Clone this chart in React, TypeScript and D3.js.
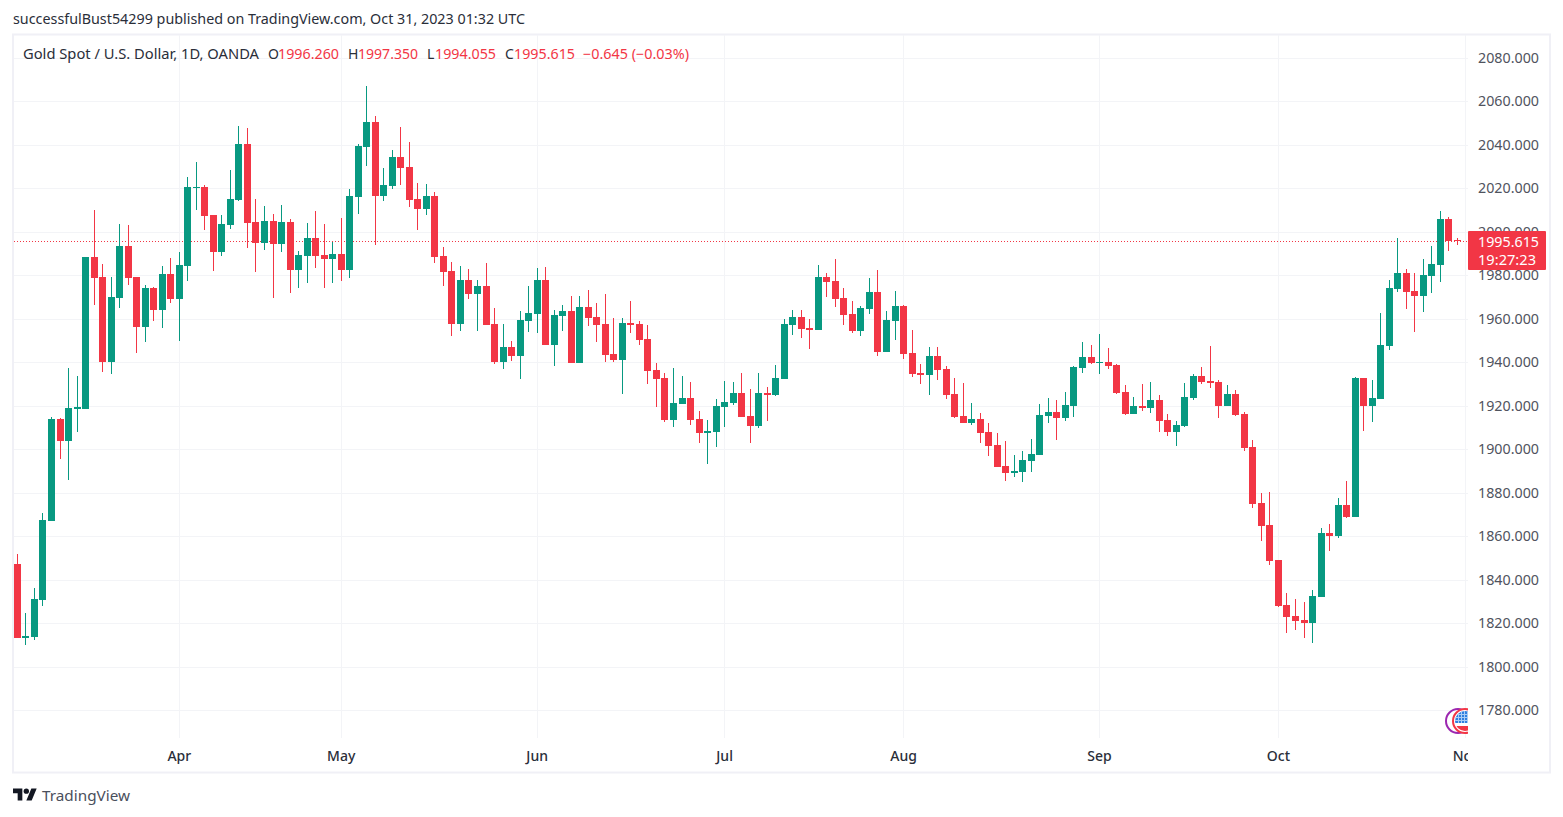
import React from "react";
import * as d3 from "d3";

const opens = [1847.3,1813.4,1813.8,1830.8,1867,1914,1904,1918.7,1918.7,1988.4,1979.2,1940.2,1969.5,1993.4,1979.2,1956.3,1974.1,1964.1,1980.6,1969.2,
1984.4,2020.1,2020.6,2007.7,1990.8,2003.2,2014.7,2040.4,2004.5,1995,2005,1994.5,2004.5,1982.5,1989,1997.1,1989.3,1987.5,1989.8,1982.5,
2016.1,2039.1,2050.5,2016.6,2021.2,2034.4,2029.8,2015.1,2010.6,2016.4,1988.8,1981.9,1957.7,1977.8,1971.5,1975,1957.6,1940.2,1947,1942.8,
1958.9,1962.2,1977.8,1947.9,1961.2,1963.5,1939.6,1965.4,1960.8,1957.6,1943.8,1941,1958,1957.6,1950.7,1936.4,1932.7,1913.5,1920.9,1923.5,
1913.9,1907.5,1908,1919.5,1921.3,1925.8,1915.3,1910.7,1925.8,1924.9,1932.3,1957.1,1960.8,1955.7,1954.8,1979.2,1977.3,1969.5,1962.2,1954.3,
1964.5,1972.3,1944.7,1958.9,1965.8,1944.2,1935,1934.1,1942.8,1936.9,1925.4,1915.3,1912.1,1914,1908,1902,1892.3,1889.1,1889.6,1894.6,
1897.4,1915.3,1917.2,1914.4,1920,1937.3,1942.4,1939.6,1940.1,1938.7,1926.3,1916.2,1920,1919,1922.7,1913.5,1908,1910.7,1923.5,1933.6,
1931.3,1930.9,1920,1925.4,1916.2,1901.1,1875.3,1865.2,1849.1,1828.4,1823.3,1821.5,1820.1,1832,1861.5,1860.1,1874.4,1868.9,1932.7,1920,
1923.1,1947.4,1973.7,1981,1972.7,1970.4,1979.6,1984.7,2005.9,1996.26];
const highs = [1851.9,1824.7,1836.2,1870.7,1914.9,1914.4,1937.3,1933.6,1988.4,2010,1985.2,1979.2,2003.6,2003.1,1979.2,1975.5,1974.6,1984.2,1987.9,1990.7,
2025.2,2032.1,2021.5,2007.7,2007.7,2028.4,2048.6,2047.7,2015.1,2011.8,2008.2,2012.3,2005.9,1991.1,2004,2009.5,2003.6,1995.3,2006.3,2019.7,
2040.4,2067,2053.2,2029.3,2037.6,2048.2,2041.3,2022.4,2022,2018.3,1993,1986.1,1984.2,1982.9,1977.8,1985.6,1964.9,1957.6,1949.7,1963.5,
1975,1983.3,1983.8,1964,1966.3,1970.4,1970.4,1973.2,1967.2,1971.4,1960.3,1960.3,1968.1,1959,1957.1,1939.6,1935,1937.3,1933.6,1930.9,
1917.6,1913.5,1923.1,1931.3,1930.9,1935,1927.7,1935,1928.6,1938.7,1959.9,1964,1964,1959.9,1984.7,1981,1987.5,1974.1,1968.1,1965.8,
1978.7,1982.4,1963.5,1972.7,1966.3,1954.8,1939.2,1947,1947,1938.2,1932.7,1930.4,1921.3,1916.7,1912.1,1907.5,1903.8,1897.4,1899.2,1904.8,
1920.9,1923.6,1922.7,1926.4,1938.2,1949.3,1947.9,1953,1946.5,1939.2,1929.5,1924.1,1930,1930.9,1924.9,1916.2,1913,1930.4,1934.6,1937.8,
1947.4,1931.8,1929.5,1927.2,1917.2,1904.3,1879.9,1880.4,1849.1,1833.9,1831.2,1829.8,1835.3,1863.8,1865.7,1877.6,1885.4,1933.2,1932.7,1931.8,
1962.6,1977.8,1997.1,1982.9,1981,1987.5,1993.4,2009.5,2006.8,1997.35];
const lows = [1813.2,1810.1,1812.4,1828.1,1867,1895.7,1886,1908.1,1918.6,1966.3,1935.6,1934.7,1965.1,1975.6,1944.4,1949.4,1959.1,1955.9,1967.4,1949.9,
1977.5,2010.1,2000.9,1982.1,1989,2001.4,2014.3,1992.7,1981.6,1991.7,1969.7,1990.8,1972,1974.3,1976.6,1983.5,1974.3,1976.6,1977.5,1978.9,
2008.3,2030.4,1994,2014.3,2019.8,2021.6,2011.5,2000.9,2007.8,1985.8,1975.2,1952.2,1954.5,1969.2,1954.5,1957.2,1939.3,1936.9,1940.5,1932.3,
1953.9,1953.4,1947.9,1938.2,1954.3,1939.6,1939.6,1956.6,1949.3,1940.1,1940.1,1925.4,1953.4,1947.9,1930,1919.5,1912.6,1910.3,1920.9,1911.2,
1902.9,1893.3,1901.1,1910.3,1920.4,1914.9,1902.9,1909.8,1913,1924.5,1932.3,1952.5,1951.1,1946,1954.8,1970,1965.4,1957.1,1953.4,1952,
1962.2,1942.8,1944.7,1950.2,1941.5,1933.2,1930,1924.9,1931.8,1923.1,1914.4,1912.1,1911.2,1902.9,1896.9,1891.9,1885.4,1887.3,1884.9,1889.6,
1897.4,1912.1,1904.3,1913,1914.9,1935,1939.2,1934.6,1936.9,1925.4,1915.8,1916.2,1917.6,1916.7,1908,1906.1,1901.5,1910.3,1922.6,1930,
1928.1,1914.4,1920,1915.3,1899.2,1873,1857.8,1846.8,1827.5,1815.5,1816.9,1813.2,1810.9,1832,1853.2,1859.2,1868.4,1868.9,1908.4,1912.6,
1923.1,1945.6,1972.3,1964.5,1953.9,1963.1,1971.8,1976.9,1991.1,1994.055];
const closes = [1813.4,1814.1,1831.2,1867.5,1914,1904,1919,1919.5,1988.4,1978.9,1940.2,1970,1993.4,1978.9,1956.3,1974.1,1964.1,1980.6,1969.2,1984.7,
2020.6,2020.6,2007.4,1990.8,2003.6,2015.1,2040.4,2004.2,1995,2005,1994.5,2004.5,1982.5,1989.3,1997.1,1989,1987.5,1989.8,1982.5,2016.4,
2039.4,2050.5,2016.6,2021.5,2034.4,2029.5,2014.7,2010.6,2016.4,1988.5,1981.6,1957.7,1977.8,1971.5,1975,1957.2,1940.2,1947,1942.8,1959.4,
1962.6,1977.8,1947.9,1961.7,1963.5,1939.6,1965.4,1960.3,1957.1,1943.3,1941,1958,1957.1,1950.2,1935.9,1932.3,1913.5,1921.3,1923.5,1913.5,
1907.5,1908.4,1919.9,1921.8,1925.8,1914.9,1910.7,1925.8,1924.9,1932.7,1957.6,1960.8,1955.3,1954.8,1979.2,1976.9,1969.1,1961.7,1954.3,1964.9,
1972.3,1944.7,1959.4,1965.8,1943.8,1934.6,1934.1,1942.8,1936.4,1924.9,1914.9,1912.1,1914,1907.5,1901.5,1891.9,1889.1,1890,1895.1,1897.9,
1915.8,1917.2,1914.4,1920.4,1937.8,1942.4,1939.6,1940.1,1938.2,1925.8,1916.2,1920,1919,1922.7,1913,1908,1911.2,1924.1,1933.6,1930.9,
1930.4,1920,1925.4,1915.8,1900.6,1874.9,1864.7,1848.6,1827.9,1822.9,1821,1820.1,1832.5,1861.5,1860.1,1874.4,1868.9,1932.7,1920,1923.5,
1947.9,1974.1,1981,1972.3,1970.4,1980.1,1985.2,2005.9,1995.7,1995.615];

const priceTicks = [2080,2060,2040,2020,2000,1980,1960,1940,1920,1900,1880,1860,1840,1820,1800,1780];
const monthLabels = ["Apr","May","Jun","Jul","Aug","Sep","Oct","Nov"];
const monthIndex = [19,38,61,83,104,127,148,170];
const publishedText = "successfulBust54299 published on TradingView.com, Oct 31, 2023 01:32 UTC";
const symbolText = "Gold Spot / U.S. Dollar, 1D, OANDA";
const lastPrice = 1995.615;
const countdown = "19:27:23";

const UP = "#089981";
const DOWN = "#f23645";
const GRID = "#f3f4f7";
const BORDER = "#f0f0f6";
const FONT = "'Noto Sans', sans-serif";
const TEXT = "#2a2e39";

export default function App() {
  const x = d3.scaleLinear().domain([0, 169]).range([17.4, 1457.4]);
  const y = d3.scaleLinear().domain([1780, 2060]).range([710.3, 101.3]);
  const lastY = Math.round(y(lastPrice));
  return (
    <svg width={1563} height={817} style={{ position: "fixed", left: 0, top: 0, background: "#fff" }} fontFamily={FONT}>
      <defs>
        <clipPath id="pane"><rect x={14} y={35} width={1454} height={703} /></clipPath>
        <clipPath id="timeAxis"><rect x={14} y={738} width={1454} height={34} /></clipPath>
        <clipPath id="flag"><circle cx={1465} cy={721} r={10} /></clipPath>
      </defs>
      <text x={13} y={24} fontSize={14} fill={TEXT} textLength={512} lengthAdjust="spacingAndGlyphs">{publishedText}</text>
      <rect x={13} y={34.5} width={1537} height={738} fill="none" stroke={BORDER} strokeWidth={2} />
      <g clipPath="url(#pane)">
        {priceTicks.map((p) => (
          <rect key={p} x={14} y={Math.round(y(p))} width={1454} height={1} fill={GRID} />
        ))}
        {monthIndex.map((m) => (
          <rect key={m} x={Math.floor(x(m))} y={35} width={1} height={703} fill={GRID} />
        ))}
        {d3.range(0, Math.ceil(1454 / 3)).map((k) => (
          <rect key={k} x={14 + k * 3} y={lastY} width={1} height={1} fill={DOWN} />
        ))}
        {opens.map((o, i) => {
          const c = closes[i];
          const col = Math.floor(x(i));
          const top = Math.round(y(Math.max(o, c)));
          const bot = Math.round(y(Math.min(o, c)));
          const hi = Math.round(y(highs[i]));
          const lo = Math.round(y(lows[i]));
          const color = c >= o ? UP : DOWN;
          return (
            <g key={i} fill={color}>
              <rect x={col} y={hi} width={1} height={Math.max(1, lo - hi)} />
              <rect x={col - 3} y={top} width={7} height={Math.max(1, bot - top)} />
            </g>
          );
        })}
        <circle cx={1458} cy={721} r={12} fill="#fff" stroke="#9c27b0" strokeWidth={2} />
        <circle cx={1465} cy={721} r={12} fill="#fff" stroke="#f23645" strokeWidth={2} />
        <g clipPath="url(#flag)">
          <rect x={1455} y={711} width={20} height={12} fill="#2f7fe0" />
          {d3.range(0, 4).map((k) => (
            <rect key={k} x={1458 + k * 3} y={711} width={1} height={12} fill="#a9cdf5" />
          ))}
          {d3.range(0, 3).map((k) => (
            <rect key={k} x={1455} y={714 + k * 3} width={20} height={1} fill="#a9cdf5" />
          ))}
          <rect x={1455} y={726} width={20} height={5} fill="#f23645" />
        </g>
      </g>
      <g fontSize={14} fontWeight={500} fill={TEXT}>
        <g clipPath="url(#timeAxis)">
          {monthLabels.map((m, i) => (
            <text key={m} x={x(monthIndex[i])} y={761} textAnchor="middle">{m}</text>
          ))}
        </g>
      </g>
      <g fontSize={14} fill="#50535e">
        {priceTicks.map((p) => (
          <text key={p} x={1539} y={y(p) + 5} textAnchor="end" textLength={61} lengthAdjust="spacingAndGlyphs">{d3.format(".3f")(p)}</text>
        ))}
      </g>
      <rect x={1468} y={231} width={78} height={39} rx={1} fill={DOWN} />
      <g fontSize={14} fill="#fff" textAnchor="end">
        <text x={1539} y={247} textLength={61} lengthAdjust="spacingAndGlyphs">{d3.format(".3f")(lastPrice)}</text>
        <text x={1536} y={265} textLength={58} lengthAdjust="spacingAndGlyphs">{countdown}</text>
      </g>
      <g fontSize={14}>
        <text x={23} y={59} fill={TEXT} textLength={236} lengthAdjust="spacingAndGlyphs">{symbolText}</text>
        <text x={268} y={59} fill={TEXT}>O</text>
        <text x={278} y={59} fill={DOWN} textLength={61} lengthAdjust="spacingAndGlyphs">1996.260</text>
        <text x={348} y={59} fill={TEXT}>H</text>
        <text x={358} y={59} fill={DOWN} textLength={60} lengthAdjust="spacingAndGlyphs">1997.350</text>
        <text x={427} y={59} fill={TEXT}>L</text>
        <text x={435} y={59} fill={DOWN} textLength={61} lengthAdjust="spacingAndGlyphs">1994.055</text>
        <text x={505} y={59} fill={TEXT}>C</text>
        <text x={514} y={59} fill={DOWN} textLength={61} lengthAdjust="spacingAndGlyphs">1995.615</text>
        <text x={583} y={59} fill={DOWN} textLength={106} lengthAdjust="spacingAndGlyphs">−0.645 (−0.03%)</text>
      </g>
      <g fill="#131722" transform="translate(13 785.8) scale(0.667)">
        <path d="M14 22H7V11H0V4h14v18zM28 22h-8l7.5-18h8L28 22z" />
        <circle cx={20} cy={8} r={4} />
      </g>
      <text x={42} y={801} fontSize={15} fill="#4a4f5c" textLength={88} lengthAdjust="spacingAndGlyphs">TradingView</text>
    </svg>
  );
}
